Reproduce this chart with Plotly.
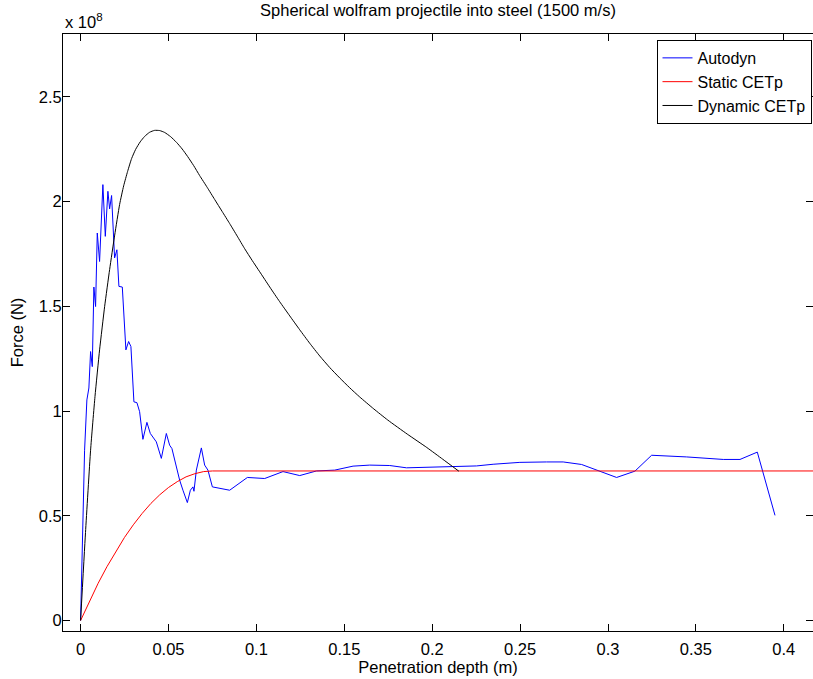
import plotly.graph_objects as go

# Penetration depth (m) and force (in units of 1e8 N)
autodyn_x = [0, 0.00228, 0.00359, 0.00472, 0.00569, 0.00666, 0.00757, 0.00854, 0.00950, 0.01081,
             0.01269, 0.01406, 0.01554, 0.01651, 0.01764, 0.01935, 0.02066, 0.02180, 0.02373, 0.02578,
             0.02732, 0.02863, 0.03034, 0.03204, 0.03358, 0.03546, 0.03773, 0.03967, 0.04308, 0.04593,
             0.04878, 0.05065, 0.05196, 0.05447, 0.05635, 0.05822, 0.06073, 0.06244, 0.06392, 0.06449,
             0.06585, 0.06870, 0.07057, 0.07245, 0.07496, 0.08480, 0.09488, 0.10472, 0.11514, 0.12464,
             0.13415, 0.14456, 0.15498, 0.16449, 0.17587, 0.18537, 0.20814, 0.21383, 0.22521, 0.23466,
             0.24986, 0.26505, 0.27450, 0.28497, 0.30489, 0.31531, 0.32481, 0.34474, 0.36557, 0.37507,
             0.38492, 0.39499]
autodyn_f = [0, 0.813, 1.053, 1.110, 1.284, 1.212, 1.592, 1.499, 1.850, 1.714,
             2.081, 1.834, 2.049, 1.965, 2.029, 1.731, 1.770, 1.595, 1.592, 1.292,
             1.332, 1.308, 1.044, 1.040, 0.997, 0.865, 0.946, 0.893, 0.853, 0.774,
             0.893, 0.837, 0.821, 0.734, 0.670, 0.622, 0.563, 0.622, 0.638, 0.617,
             0.718, 0.824, 0.742, 0.718, 0.638, 0.622, 0.683, 0.678, 0.711, 0.692,
             0.714, 0.718, 0.737, 0.742, 0.740, 0.729, 0.734, 0.738, 0.738, 0.746,
             0.755, 0.757, 0.757, 0.745, 0.683, 0.713, 0.789, 0.781, 0.769, 0.769,
             0.804, 0.502]

static_x = [0, 0.005, 0.01, 0.015, 0.02, 0.025, 0.03, 0.035, 0.04, 0.045, 0.05,
            0.055, 0.06, 0.065, 0.07, 0.075, 0.42]
static_f = [0, 0.092, 0.178, 0.257, 0.330, 0.397, 0.457, 0.511, 0.559, 0.600, 0.635,
            0.663, 0.686, 0.701, 0.711, 0.714, 0.714]

dynamic_x = [0, 0.0028, 0.00569, 0.0082, 0.01081, 0.0137, 0.01651, 0.0194, 0.02220, 0.0245,
             0.02675, 0.0290, 0.03130, 0.0339, 0.03643, 0.0393, 0.04212, 0.0450, 0.04781, 0.0512,
             0.05464, 0.0578, 0.06090, 0.0643, 0.06773, 0.0720, 0.07627, 0.0805, 0.08480, 0.0891,
             0.09334, 0.0976, 0.10188, 0.1076, 0.11326, 0.1190, 0.12465, 0.1303, 0.13603, 0.1417,
             0.14741, 0.1531, 0.15879, 0.1668, 0.17473, 0.1858, 0.19693, 0.2060, 0.21514]
dynamic_f = [0, 0.420, 0.813, 1.070, 1.292, 1.500, 1.675, 1.840, 1.986, 2.075,
             2.144, 2.205, 2.249, 2.285, 2.311, 2.331, 2.340, 2.339, 2.330, 2.310,
             2.282, 2.251, 2.215, 2.172, 2.124, 2.068, 2.010, 1.953, 1.895, 1.835,
             1.775, 1.719, 1.665, 1.592, 1.522, 1.454, 1.388, 1.324, 1.263, 1.208,
             1.158, 1.111, 1.067, 1.010, 0.957, 0.890, 0.826, 0.770, 0.713]

x_ticks = [0, 0.05, 0.1, 0.15, 0.2, 0.25, 0.3, 0.35, 0.4]
y_ticks = [0, 0.5, 1, 1.5, 2, 2.5]

FONT = "Liberation Sans, Arial, Helvetica, sans-serif"

fig = go.Figure()
fig.add_trace(go.Scatter(x=autodyn_x, y=autodyn_f, mode="lines", name="Autodyn",
                         line=dict(color="#0000ff", width=1)))
fig.add_trace(go.Scatter(x=static_x, y=static_f, mode="lines", name="Static CETp",
                         line=dict(color="#ff0000", width=1)))
fig.add_trace(go.Scatter(x=dynamic_x, y=dynamic_f, mode="lines", name="Dynamic CETp",
                         line=dict(color="#000000", width=1, shape="spline", smoothing=0.5)))

axis_common = dict(showgrid=False, zeroline=False, showline=True, linecolor="black",
                   linewidth=1, mirror="ticks", ticks="inside", ticklen=7, tickcolor="black",
                   tickwidth=1, automargin=False,
                   tickfont=dict(family=FONT, size=16.5, color="black"))

fig.update_layout(
    width=813, height=679,
    margin=dict(l=63, r=0, t=34, b=48, autoexpand=False),
    paper_bgcolor="white", plot_bgcolor="white",
    font=dict(family=FONT, size=16.5, color="black"),
    title=dict(text="Spherical wolfram projectile into steel (1500 m/s)",
               x=0.5, xref="paper", y=1, yref="container", yanchor="top",
               xanchor="center", pad=dict(t=4),
               font=dict(family=FONT, size=16.5, color="black")),
    xaxis=dict(range=[-0.01, 0.4166], tickvals=x_ticks, ticklabelstandoff=3,
               title=dict(text="Penetration depth (m)", standoff=0,
                          font=dict(family=FONT, size=16.5, color="black")),
               **axis_common),
    yaxis=dict(range=[-0.05, 2.8], tickvals=y_ticks, ticklabelstandoff=-3,
               title=dict(text="Force (N)", standoff=10,
                          font=dict(family=FONT, size=16.5, color="black")),
               **axis_common),
    legend=dict(x=0.998, y=0.99, xanchor="right", yanchor="top",
                bgcolor="white", bordercolor="black", borderwidth=1,
                font=dict(family=FONT, size=16, color="black")),
    showlegend=True,
)

fig.add_annotation(text="x 10<sup>8</sup>", xref="paper", yref="paper", x=0, y=1,
                   xanchor="left", yanchor="bottom", yshift=1, showarrow=False,
                   font=dict(family=FONT, size=16.5, color="black"))

fig.write_html("out.html", config={"displayModeBar": False},
               post_script="document.body.style.margin='0';document.body.style.overflow='hidden';")
